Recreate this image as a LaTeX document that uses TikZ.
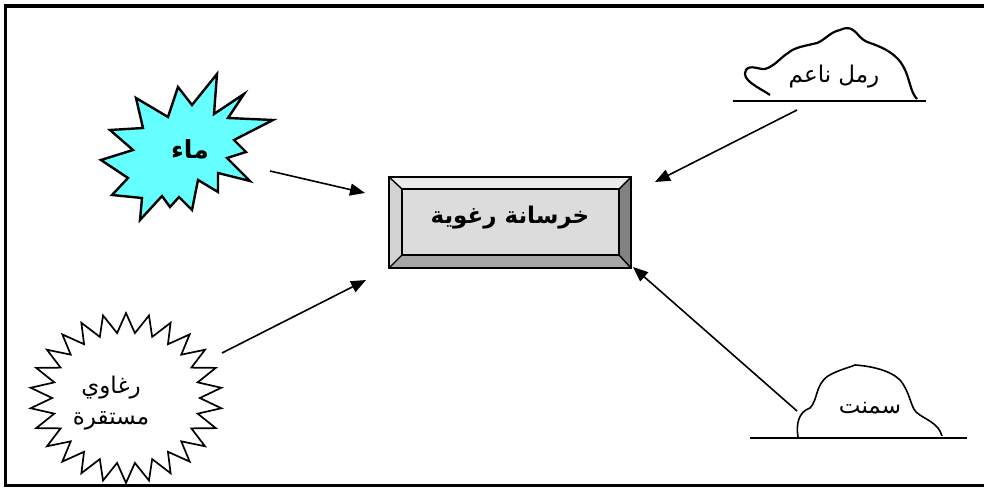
\documentclass[tikz,border=0pt]{standalone}
\usepackage{fontspec}
\usetikzlibrary{arrows.meta,shapes.geometric}
\TeXXeTstate=1
\newfontfamily\arabicfont[Script=Arabic]{DejaVu Sans}
\definecolor{aqua}{HTML}{66FFFF}
\definecolor{facegray}{HTML}{DCDCDC}
\definecolor{topgray}{HTML}{EBEBEB}
\definecolor{leftgray}{HTML}{D2D2D2}
\definecolor{rightgray}{HTML}{828282}
\definecolor{botgray}{HTML}{A6A6A6}
\tikzset{
  arr/.style={line width=1.6pt,-{Triangle[length=15pt,width=12pt]}},
  outline/.style={line width=2.4pt,line join=miter},
  heap/.style={line width=1.6pt},
  ground/.style={line width=2.4pt},
  lbl/.style={font=\arabicfont\fontsize{23}{28}\selectfont,inner sep=0pt},
  blbl/.style={font=\arabicfont\bfseries\fontsize{23}{28}\selectfont,inner sep=0pt},
}
\begin{document}
\begin{tikzpicture}[x=1pt,y=-1pt]
\useasboundingbox (0,0) rectangle (984,489);
\begin{scope}
\clip (0,0) rectangle (984,489);
\draw[line width=3.5pt] (5.5,6) rectangle (995,485.5);
\end{scope}
% water starburst
\filldraw[fill=aqua,outline] (217,74) -- (214,114) -- (244,94) -- (228,118) -- (273,120) -- (234,140)
  -- (246,152) -- (227,158) -- (250,181) -- (218,173) -- (218,192) -- (198,180) -- (192,210)
  -- (179,197) -- (170,207) -- (162,196) -- (140,220) -- (142,198) -- (112,195) -- (128,178)
  -- (101,160) -- (133,150) -- (110,130) -- (143,128) -- (136,98) -- (168,117) -- (178,87)
  -- (192,105) -- cycle;
\node[blbl,font=\arabicfont\bfseries\fontsize{25}{30}\selectfont] (water) at (190,149) {\beginR ماء\endR};
% foam starburst
\begin{scope}[shift={(126,398)},yscale=0.885]
\node[star,star points=26,star point ratio=1.3,minimum size=192pt,inner sep=0pt,
  draw,line width=1.7pt,fill=white,transform shape] (foamstar) at (0,0) {};
\end{scope}
\node[lbl,align=center,font=\arabicfont\fontsize{23}{31}\selectfont] (foam) at (111,403) {\beginR رغاوي\endR\\\beginR مستقرة\endR};
% central box
\fill[topgray] (389,177) -- (631,177) -- (619,189) -- (402,189) -- cycle;
\fill[leftgray] (389,177) -- (402,189) -- (402,255) -- (389,268) -- cycle;
\fill[rightgray] (631,177) -- (631,268) -- (619,255) -- (619,189) -- cycle;
\fill[botgray] (389,268) -- (631,268) -- (619,255) -- (402,255) -- cycle;
\fill[facegray] (402,189) rectangle (619,255);
\draw[line width=2.2pt] (389,177) rectangle (631,268);
\draw[line width=1.6pt] (402,189) rectangle (619,255);
\draw[line width=1.4pt] (389,177) -- (402,189) (631,177) -- (619,189) (389,268) -- (402,255) (631,268) -- (619,255);
\node[blbl] (concrete) at (510,218) {\beginR خرسانة رغوية\endR};
% sand
\draw[ground] (733,101) -- (926,101);
\draw[heap,line width=2.2pt] (770,95) .. controls (760,88) and (740,80) .. (746,70)
  .. controls (750,64) and (760,70) .. (765,69)
  .. controls (775,66) and (780,58) .. (788,53)
  .. controls (795,47) and (805,46) .. (817,43)
  .. controls (825,40) and (830,32) .. (840,30)
  .. controls (846,27) and (850,28) .. (853,30)
  .. controls (858,33) and (860,40) .. (870,43)
  .. controls (885,48) and (897,55) .. (903,66)
  .. controls (910,78) and (910,92) .. (917,99);
\node[lbl] (sand) at (834,77) {\beginR رمل ناعم\endR};
% cement
\draw[ground] (750,438) -- (967,438);
\draw[heap] (798,437) .. controls (796,425) and (798,412) .. (810,408)
  .. controls (818,400) and (815,385) .. (828,376)
  .. controls (838,370) and (848,368) .. (855,365)
  .. controls (870,366) and (890,370) .. (900,380)
  .. controls (910,392) and (910,405) .. (916,412)
  .. controls (925,420) and (938,422) .. (942,436);
\node[lbl] (cement) at (870,408) {\beginR سمنت\endR};
% arrows
\coordinate (wA) at (270,171);
\coordinate (wB) at (365,193);
\coordinate (fA) at (222,353);
\coordinate (fB) at (366,280);
\coordinate (sA) at (797,110);
\coordinate (sB) at (655,182);
\coordinate (cA) at (797,411);
\coordinate (cB) at (633,267);
\draw[arr] (wA) -- (wB);
\draw[arr] (fA) -- (fB);
\draw[arr] (sA) -- (sB);
\draw[arr] (cA) -- (cB);
\end{tikzpicture}
\end{document}
